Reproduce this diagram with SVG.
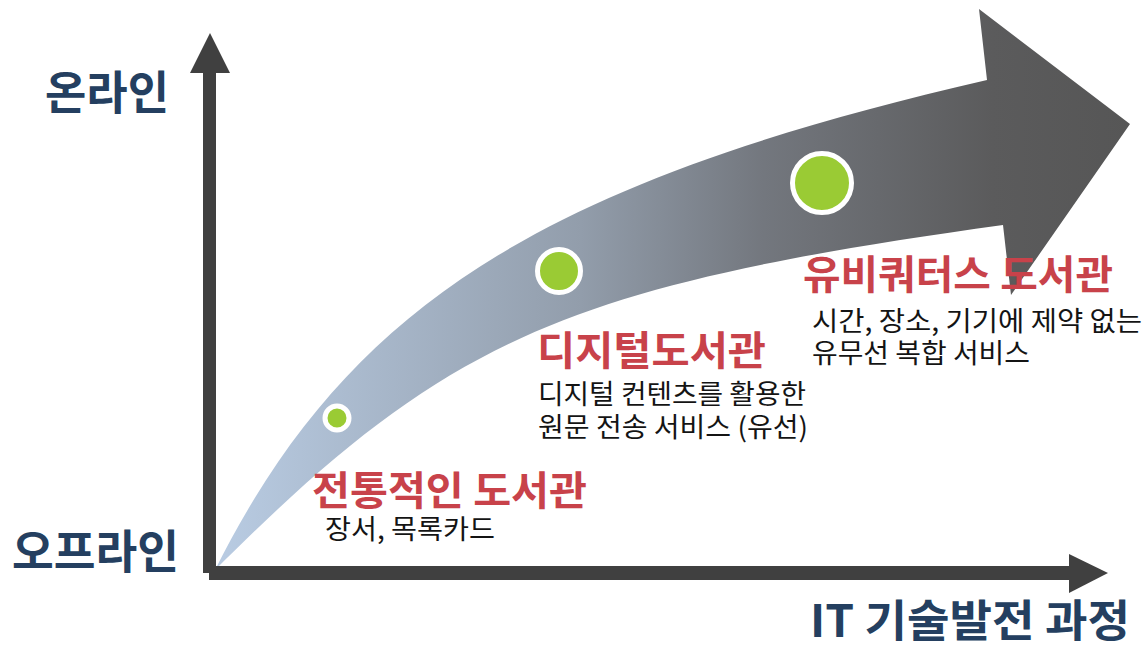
<svg xmlns="http://www.w3.org/2000/svg" width="1148" height="646" viewBox="0 0 1148 646">
<style>
.axis{fill:#404040}
.ax-label{font-family:"Noto Sans CJK KR","Noto Sans",sans-serif;font-weight:700;fill:#243f60}
.title{font-family:"Noto Sans CJK KR","Noto Sans",sans-serif;font-weight:700;fill:#c8424a;font-size:40px}
.desc{font-family:"Noto Sans CJK KR","Noto Sans",sans-serif;font-weight:400;fill:#141414;font-size:27px}
.dot{fill:#9acb34;stroke:#ffffff}
</style>
<defs>
<linearGradient id="grad" gradientUnits="userSpaceOnUse" x1="215" y1="0" x2="1130" y2="0">
<stop offset="0" stop-color="#b9cce3"/>
<stop offset="0.4" stop-color="#929dab"/>
<stop offset="0.6" stop-color="#73777e"/>
<stop offset="0.85" stop-color="#5b5b5c"/>
<stop offset="1" stop-color="#565656"/>
</linearGradient>
</defs>
<g id="curved-arrow">
<path d="M215,570 C447.5,337.5 565.7,285.8 1003,225 L1011,295 L1130,124 L979,9 L987,80 C540.8,182.8 347.8,305.3 215,570 Z" fill="url(#grad)"/>
</g>
<g id="connectors">
<rect class="axis" x="203" y="70" width="13" height="503"/>
<polygon class="axis" points="210,33 230,73 190,73"/>
<rect class="axis" x="209" y="566" width="862" height="14"/>
<polygon class="axis" points="1069,554 1108,573 1069,593"/>
</g>
<g id="node-dot1"><circle class="dot" cx="337" cy="418" r="12" stroke-width="5"/></g>
<g id="node-dot2"><circle class="dot" cx="559" cy="271" r="21.5" stroke-width="5"/></g>
<g id="node-dot3"><circle class="dot" cx="822" cy="183" r="29.5" stroke-width="5"/></g>
<g id="label-online"><text class="ax-label" x="45" y="109" font-size="46" textLength="124" lengthAdjust="spacingAndGlyphs">온라인</text></g>
<g id="label-offline"><text class="ax-label" x="12" y="568" font-size="46" textLength="167" lengthAdjust="spacingAndGlyphs">오프라인</text></g>
<g id="label-it"><text class="ax-label" x="810" y="637" font-size="44" textLength="320" lengthAdjust="spacingAndGlyphs">IT 기술발전 과정</text></g>
<g id="node-traditional">
<text class="title" x="312" y="505" textLength="275" lengthAdjust="spacingAndGlyphs">전통적인 도서관</text>
<text class="desc" x="325" y="539" textLength="170" lengthAdjust="spacingAndGlyphs">장서, 목록카드</text>
</g>
<g id="node-digital">
<text class="title" x="537" y="365" textLength="229" lengthAdjust="spacingAndGlyphs">디지털도서관</text>
<text class="desc" x="538" y="404" textLength="268" lengthAdjust="spacingAndGlyphs">디지털 컨텐츠를 활용한</text>
<text class="desc" x="538" y="437" textLength="270" lengthAdjust="spacingAndGlyphs">원문 전송 서비스 (유선)</text>
</g>
<g id="node-ubiquitous">
<text class="title" x="803" y="289" textLength="310" lengthAdjust="spacingAndGlyphs">유비쿼터스 도서관</text>
<text class="desc" x="812" y="331" textLength="330" lengthAdjust="spacingAndGlyphs">시간, 장소, 기기에 제약 없는</text>
<text class="desc" x="812" y="363" textLength="218" lengthAdjust="spacingAndGlyphs">유무선 복합 서비스</text>
</g>
</svg>
